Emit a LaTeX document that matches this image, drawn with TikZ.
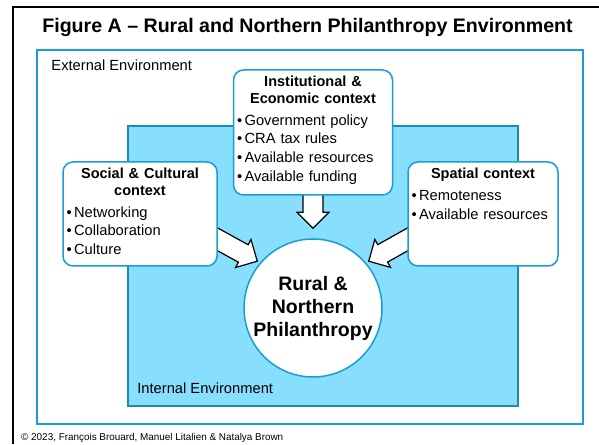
\documentclass[tikz,border=0pt]{standalone}
\usepackage{fontspec}
\setmainfont{Liberation Sans}
\usetikzlibrary{positioning,calc,backgrounds}
\setlength{\parindent}{0pt}
\definecolor{envblue}{RGB}{25,158,212}
\definecolor{innerfill}{RGB}{135,222,253}
\definecolor{innerline}{RGB}{32,138,178}

\begin{document}
\begin{tikzpicture}[x=1pt,y=1pt,
    envbox/.style={draw=envblue,line width=1.5pt,fill=white,inner sep=0},
    innerbox/.style={draw=innerline,line width=1.6pt,fill=innerfill,inner sep=0},
    context/.style={draw=envblue,line width=1.5pt,fill=white,rounded corners=10pt,inner sep=0},
    contexttext/.style={font=\fontsize{14.7}{18.6}\selectfont,align=left,inner sep=0},
    contexthead/.style={font=\fontsize{14.5}{16.5}\selectfont\bfseries},
    envlabel/.style={font=\fontsize{14.7}{17}\selectfont,inner sep=0},
    core/.style={circle,draw=envblue,line width=1.5pt,fill=white,minimum size=138pt,
      inner sep=0,align=center,font=\fontsize{19.5}{23}\selectfont\bfseries},
    fatarrow/.style={draw=black,fill=white,line width=1.2pt,line join=miter,
      to path={($(\tikztostart)!10pt!90:(\tikztotarget)$)
        -- ($(\tikztotarget)!16pt!(\tikztostart)!10pt!90:(\tikztotarget)$)
        -- ($(\tikztotarget)!16pt!(\tikztostart)!16pt!90:(\tikztotarget)$)
        -- (\tikztotarget)
        -- ($(\tikztotarget)!16pt!(\tikztostart)!16pt!-90:(\tikztotarget)$)
        -- ($(\tikztotarget)!16pt!(\tikztostart)!10pt!-90:(\tikztotarget)$)
        -- ($(\tikztostart)!10pt!-90:(\tikztotarget)$) -- cycle}}]
  \useasboundingbox (0,0) rectangle (599,444);

  % environments
  \begin{scope}[on background layer]
    \node [envbox,minimum width=546pt,minimum height=374pt] (ext) at (310,207) {};
    \node [innerbox,minimum width=390pt,minimum height=280pt] (int) at (323,178) {};
  \end{scope}
  \node [envlabel,below right=10pt and 15pt of ext.north west] (extlabel) {External Environment};
  \node [envlabel,above right=13pt and 10pt of int.south west] (intlabel) {Internal Environment};

  % centre
  \node [core] (core) at (313,136) {Rural \&\\Northern\\Philanthropy};

  % contexts
  \node [context,minimum width=159pt,minimum height=125pt] (inst) at (313,311.5) {};
  \node [contexttext,text width=152pt,below=7pt of inst.north] (insttext)
    {{\centering\fontsize{14.5}{16.5}\selectfont\bfseries Institutional \&\\Economic context\par}\vspace{3.3pt}
     •\,Government policy\\•\,CRA tax rules\\•\,Available resources\\•\,Available funding};
  \node [context,minimum width=154pt,minimum height=104pt] (social) at (140,230) {};
  \node [contexttext,text width=147pt,below=7pt of social.north] (socialtext)
    {{\centering\fontsize{14.5}{16.5}\selectfont\bfseries Social \& Cultural\\context\par}\vspace{3.3pt}
     •\,Networking\\•\,Collaboration\\•\,Culture};
  \node [context,minimum width=150pt,minimum height=104pt] (spatial) at (483,230) {};
  \node [contexttext,text width=143pt,below=7pt of spatial.north] (spatialtext)
    {{\centering\fontsize{14.5}{16.5}\selectfont\bfseries Spatial context\par}\vspace{3.3pt}
     •\,Remoteness\\•\,Available resources};

  % arrows into the centre
  \begin{scope}[on background layer]
    \draw [fatarrow] ([yshift=6pt]inst.south) to ([yshift=10pt]core.north);
    \draw [fatarrow] ([shift={(-17pt,-16pt)}]social.east) to ([shift={(140:3pt)}]core.140);
    \draw [fatarrow] ([shift={(17pt,-16pt)}]spatial.west) to ([shift={(40:3pt)}]core.40);
  \end{scope}

  % frame, title and credit
  \draw [line width=2.5pt] (13,0) -- (13,437) -- (599,437);
  \node [font=\fontsize{19.6}{22}\selectfont\bfseries,anchor=base,inner sep=0] (title) at (307.5,411.7)
    {Figure A – Rural and Northern Philanthropy Environment};
  \node [font=\fontsize{9.9}{12}\selectfont,anchor=west,inner sep=0] (credit) at (21,6)
    {© 2023, François Brouard, Manuel Litalien \& Natalya Brown};
\end{tikzpicture}
\end{document}
